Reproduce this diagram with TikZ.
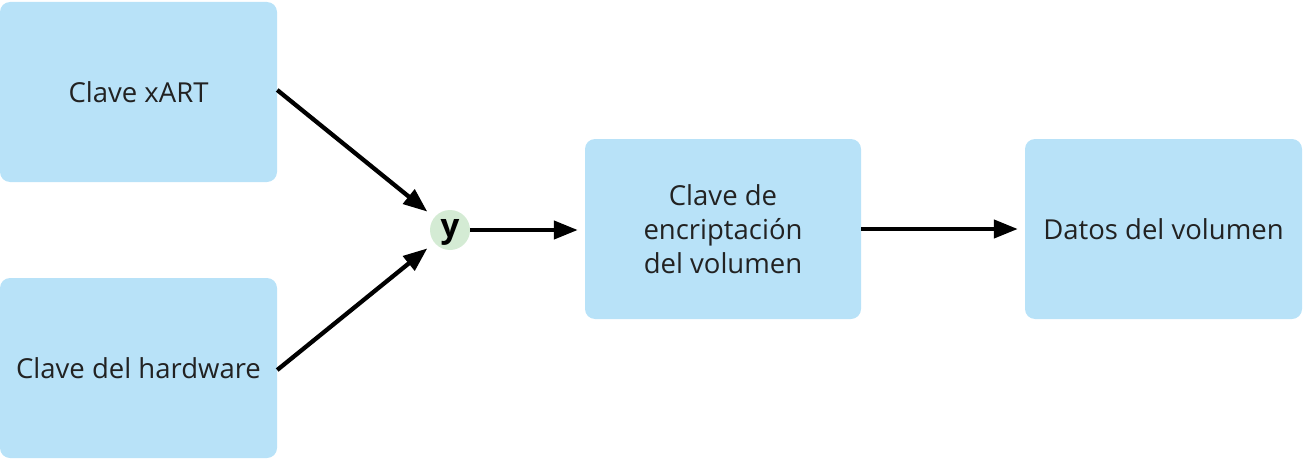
\documentclass[tikz,border=0pt]{standalone}
\usepackage{fontspec}
\setmainfont{Open Sans}
\usetikzlibrary{arrows.meta}
\definecolor{boxblue}{HTML}{B8E2F8}
\definecolor{andgreen}{HTML}{D4EBD4}
\definecolor{textgray}{HTML}{222222}
\begin{document}
\begin{tikzpicture}[x=1pt, y=-1pt,
  keybox/.style={fill=boxblue, rounded corners=10pt, minimum width=277pt, minimum height=180pt,
    align=center, text=textgray, font=\fontsize{27.5}{34}\selectfont, inner sep=0pt},
  joiner/.style={circle, fill=andgreen, minimum size=40pt, inner sep=0pt,
    font=\fontsize{33}{33}\selectfont\bfseries},
  flow/.style={line width=4.3pt, -{Triangle[length=24pt, width=18pt]}}]
\useasboundingbox (0,0) rectangle (1303,460);
% inputs
\node[keybox] (xart) at (138.5,92) {Clave xART};
\node[keybox] (hw) at (138.5,368) {Clave del hardware};
% combine
\node[joiner] (y) at (450,230) {\smash{\raisebox{-7pt}{y}}};
% outputs
\node[keybox, minimum width=276pt] (vek) at (723,229) {Clave de\\encriptación\\del volumen};
\node[keybox] (data) at (1163.5,229) {Datos del volumen};
\draw[flow, shorten >=9pt] ([yshift=2pt]xart.east) -- (y);
\draw[flow, shorten >=9pt] ([yshift=-2pt]hw.east) -- (y);
\draw[flow, shorten >=7pt] (y) -- (vek.west |- y);
\draw[flow, shorten >=7pt] (vek.east) -- (data.west);
\end{tikzpicture}
\end{document}
